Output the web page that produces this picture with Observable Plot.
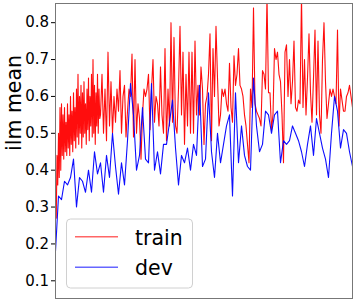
<!DOCTYPE html>
<html><head><meta charset="utf-8">
<script src="https://cdn.jsdelivr.net/npm/d3@7"></script>
<script src="https://cdn.jsdelivr.net/npm/@observablehq/plot@0.6"></script>
<style>body{margin:0;background:#fff} #c{position:relative;width:357px;height:305px}</style>
</head><body><div id="c"></div>
<script>
// train metric, logged every 0.25 epoch early on
const trainEarly = [0.32,0.27,0.44,0.36,0.50,0.38,0.57,0.40,0.58,0.44,0.55,0.43,0.57,0.45,0.53,0.44,0.58,0.46,0.55,0.44,
  0.60,0.47,0.56,0.45,0.61,0.48,0.57,0.46,0.62,0.49,0.66,0.47,0.60,0.50,0.63,0.46,0.61,0.49,0.64,0.50,
  0.58,0.47,0.62,0.51,0.65,0.48,0.60,0.52,0.66,0.49,0.70,0.50,0.63,0.47,0.61,0.52,0.66,0.50,0.62,0.54];
// train metric, logged every 0.5 epoch afterwards (from epoch 15)
const trainLate = [
  0.55,0.66,0.50,0.62,0.48,0.72,0.52,0.64,0.50,0.60,
  0.53,0.62,0.56,0.67,0.50,0.60,0.63,0.49,0.56,0.62,
  0.60,0.715,0.49,0.70,0.50,0.58,0.54,0.43,0.55,0.62,
  0.60,0.62,0.66,0.51,0.62,0.70,0.53,0.60,0.58,0.52,
  0.68,0.55,0.50,0.73,0.48,0.62,0.52,0.80,0.53,0.76,
  0.52,0.50,0.62,0.79,0.55,0.72,0.47,0.66,0.52,0.72,
  0.50,0.72,0.50,0.75,0.55,0.63,0.55,0.68,0.62,0.47,
  0.58,0.60,0.66,0.77,0.48,0.73,0.60,0.79,0.65,0.52,
  0.55,0.62,0.60,0.62,0.58,0.56,0.69,0.57,0.53,0.71,
  0.63,0.66,0.73,0.63,0.62,0.60,0.55,0.52,0.47,0.42,
  0.62,0.57,0.84,0.58,0.56,0.55,0.54,0.52,0.67,0.66,
  0.62,0.87,0.61,0.61,0.51,0.55,0.73,0.70,0.72,0.66,
  0.64,0.55,0.42,0.72,0.74,0.60,0.70,0.58,0.64,0.75,
  0.57,0.56,0.59,0.58,0.87,0.57,0.70,0.55,0.65,0.77,
  0.61,0.53,0.65,0.78,0.55,0.75,0.55,0.50,0.70,0.80,
  0.64,0.54,0.58,0.62,0.60,0.62,0.60,0.58,0.78,0.52,
  0.62,0.59,0.56,0.56,0.60,0.61,0.63,0.60,0.57];
// dev metric, one value per epoch
const devVal = [
  0.18,0.33,0.32,0.37,0.36,0.38,0.43,0.30,0.38,0.37,
  0.34,0.40,0.34,0.45,0.39,0.42,0.34,0.44,0.38,0.50,
  0.41,0.335,0.42,0.36,0.48,0.635,0.55,0.40,0.44,0.57,
  0.43,0.42,0.635,0.40,0.45,0.39,0.47,0.47,0.53,0.59,
  0.46,0.36,0.44,0.42,0.46,0.40,0.47,0.44,0.63,0.41,
  0.43,0.61,0.45,0.38,0.50,0.42,0.47,0.52,0.55,0.33,
  0.61,0.42,0.52,0.44,0.41,0.40,0.65,0.52,0.45,0.47,
  0.56,0.55,0.50,0.55,0.56,0.42,0.48,0.47,0.48,0.52,
  0.50,0.48,0.45,0.41,0.47,0.52,0.44,0.54,0.50,0.46,
  0.43,0.38,0.50,0.60,0.56,0.46,0.51,0.50,0.45,0.41];
const yTicks = [0.1,0.2,0.3,0.4,0.5,0.6,0.7,0.8];
const seriesNames = ["train","dev"];
const seriesColors = ["#ff0000","#0000ff"];
const yLabel = "ilm mean";

const train = [
  ...trainEarly.map((v,i)=>({step:i*0.25, v})),
  ...trainLate.map((v,i)=>({step:15+i*0.5, v}))
];
const dev = devVal.map((v,i)=>({step:i, v}));

const chart = Plot.plot({
  width:357, height:305,
  marginLeft:55, marginRight:5, marginTop:3, marginBottom:7,
  style:{fontFamily:"DejaVu Sans", background:"#fff", color:"#000"},
  x:{domain:[0,99], axis:null},
  y:{domain:[0.052,0.852]},
  marks:[
    Plot.line(train,{x:"step",y:"v",stroke:seriesColors[0],strokeOpacity:0.95,strokeWidth:1.1,clip:true}),
    Plot.line(dev,{x:"step",y:"v",stroke:seriesColors[1],strokeOpacity:0.95,strokeWidth:1.1,clip:true}),
    Plot.axisY({ticks:yTicks, tickFormat:d=>d.toFixed(1), tickSize:4, tickPadding:2.5, fontSize:15, label:null, stroke:"#000", fill:"#000"}),
    Plot.frame({stroke:"#777"}),
    Plot.text([yLabel],{text:d=>d, frameAnchor:"left", rotate:-90, dx:-35, lineAnchor:"bottom", fontSize:20.5, fill:"#000"})
  ]
});
document.getElementById("c").appendChild(chart);

// legend inside the plot area
const svg = d3.select(chart);
const lg = svg.append("g").attr("font-family","DejaVu Sans").attr("font-size","20.5px").attr("text-anchor","start");
lg.append("rect").attr("x",66.5).attr("y",219).attr("width",126).attr("height",69)
  .attr("rx",4).attr("fill","#fff").attr("fill-opacity",0.85).attr("stroke","#d0d0d0");
seriesNames.forEach((name,i)=>{
  const cy = 236.7 + i*30.6;
  lg.append("line").attr("x1",75).attr("x2",118).attr("y1",cy).attr("y2",cy)
    .attr("stroke",seriesColors[i]).attr("stroke-opacity",0.6).attr("stroke-width",1.4);
  lg.append("text").attr("x",135).attr("y",cy+7.8).attr("fill","#000").text(name);
});
</script>
</body></html>
